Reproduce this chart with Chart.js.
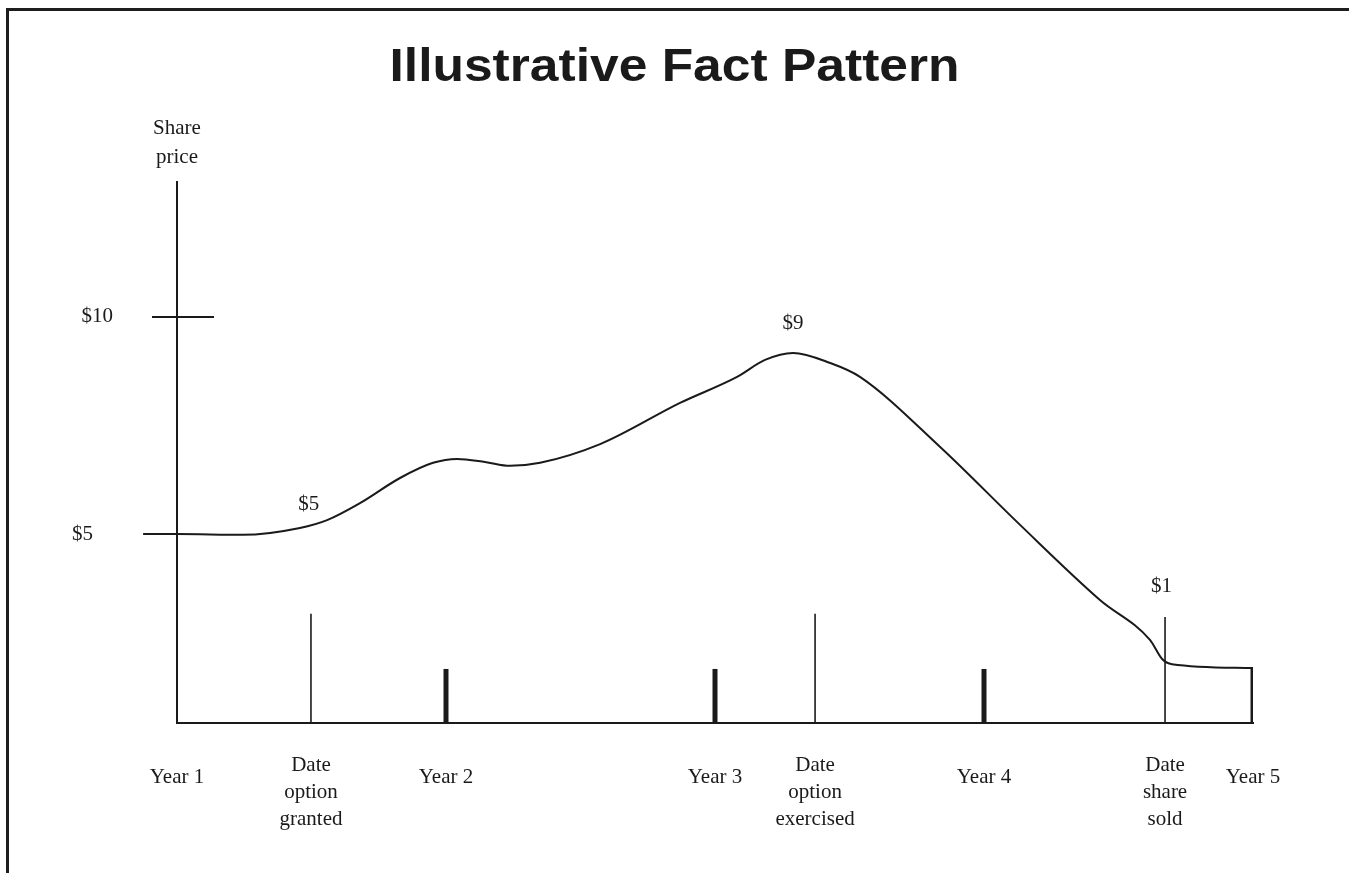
<!DOCTYPE html>
<html>
<head>
<meta charset="utf-8">
<title>Illustrative Fact Pattern</title>
<script src="https://cdn.jsdelivr.net/npm/chart.js@4.4.1/dist/chart.umd.min.js"></script>
<style>
  html, body { margin: 0; padding: 0; background: #fff; }
  .wrap { position: relative; width: 1349px; height: 873px; }
  .frame {
    position: absolute; left: 6px; top: 8px; right: -10px; bottom: -10px;
    border-left: 3px solid #1e1e1e; border-top: 3px solid #1e1e1e;
    pointer-events: none;
  }
</style>
</head>
<body>
<div class="wrap">
  <canvas id="chart"></canvas>
  <div class="frame"></div>
</div>
<script>
// share price path (x in years, y in $)
const priceX = [0.874, 1.0, 1.245, 1.457, 1.558, 1.68, 1.829, 1.952, 2.041, 2.145, 2.238, 2.35,
  2.573, 2.87, 3.082, 3.186, 3.29, 3.428, 3.539, 3.836, 4.134, 4.431, 4.617, 4.662, 4.699, 5.0];
const priceY = [5.0, 5.0, 4.98, 5.14, 5.32, 5.71, 6.29, 6.64, 6.73, 6.66, 6.57, 6.64,
  7.07, 8.02, 8.62, 9.01, 9.17, 8.94, 8.62, 7.01, 5.21, 3.48, 2.56, 2.12, 2.0, 1.91];

// year ticks
const years = [1, 2, 3, 4, 5];
const yearLabels = ["Year 1", "Year 2", "Year 3", "Year 4", "Year 5"];
const yearMarkTop = 1.89;

// event markers
const eventX = [1.498, 3.372, 4.673];
const eventTop = [3.16, 3.16, 3.09];
const eventLabels = [["Date", "option", "granted"], ["Date", "option", "exercised"], ["Date", "share", "sold"]];

// callouts on the curve
const calloutX = [1.49, 3.29, 4.66];
const calloutY = [5.67, 9.86, 3.8];
const calloutText = ["$5", "$9", "$1"];

// y axis ticks
const yTicks = [5, 10];
const yTickLabels = ["$5", "$10"];

const ink = "#1a1a1a";
const serif = "'Liberation Serif', 'DejaVu Serif', serif";

const datasets = [{
  data: priceX.map((x, i) => ({ x: x, y: priceY[i] })),
  borderColor: ink,
  borderWidth: 2,
  pointRadius: 0,
  cubicInterpolationMode: "monotone",
  clip: false
}];

// year marks (thick)
years.slice(1).forEach(x => {
  datasets.push({
    data: [{ x: x, y: 0 }, { x: x, y: yearMarkTop }],
    borderColor: ink, borderWidth: 5, pointRadius: 0
  });
});
// event lines (thin)
eventX.forEach((x, i) => {
  datasets.push({
    data: [{ x: x, y: 0 }, { x: x, y: eventTop[i] }],
    borderColor: ink, borderWidth: 1.6, pointRadius: 0
  });
});

const annotations = {
  id: "annotations",
  afterDraw(chart) {
    const ctx = chart.ctx;
    const xs = chart.scales.x, ys = chart.scales.y;
    const area = chart.chartArea;
    ctx.save();
    ctx.fillStyle = ink;
    ctx.strokeStyle = ink;

    // title, widened slightly to the original's span
    ctx.font = "bold 46px 'Liberation Sans', Arial, sans-serif";
    ctx.textAlign = "center";
    ctx.textBaseline = "middle";
    const title = "Illustrative Fact Pattern";
    const sx = Math.max(1, 570 / ctx.measureText(title).width);
    ctx.save();
    ctx.translate(chart.width / 2, 68);
    ctx.scale(sx, 1);
    ctx.fillText(title, 0, 0);
    ctx.restore();

    ctx.font = "21px " + serif;

    // y axis title
    ctx.fillText("Share", area.left, 128);
    ctx.fillText("price", area.left, 157);

    // y ticks
    ctx.lineWidth = 2;
    yTicks.forEach((v, i) => {
      const py = ys.getPixelForValue(v);
      if (v === 10) {
        ctx.beginPath();
        ctx.moveTo(area.left - 25, py);
        ctx.lineTo(area.left + 37, py);
        ctx.stroke();
      }
      ctx.textAlign = "right";
      ctx.fillText(yTickLabels[i], area.left - (v === 5 ? 84 : 64), py);
    });

    // callouts
    ctx.textAlign = "center";
    calloutText.forEach((t, i) => {
      ctx.fillText(t, xs.getPixelForValue(calloutX[i]), ys.getPixelForValue(calloutY[i]));
    });

    // x labels
    const baseY = area.bottom + 54;
    years.forEach((v, i) => {
      ctx.fillText(yearLabels[i], xs.getPixelForValue(v), baseY);
    });
    eventX.forEach((v, i) => {
      eventLabels[i].forEach((line, j) => {
        ctx.fillText(line, xs.getPixelForValue(v), area.bottom + 42 + j * 27);
      });
    });
    ctx.restore();
  }
};

new Chart(document.getElementById("chart"), {
  type: "line",
  data: { datasets: datasets },
  options: {
    responsive: true,
    maintainAspectRatio: false,
    animation: false,
    devicePixelRatio: 1,
    layout: { padding: { left: 169, right: 96, top: 182, bottom: 142 } },
    plugins: { legend: { display: false }, tooltip: { enabled: false } },
    events: [],
    scales: {
      x: {
        type: "linear", min: 1, max: 5,
        grid: { display: false },
        ticks: { display: false },
        border: { display: true, color: ink, width: 2 }
      },
      y: {
        type: "linear", min: 0.645, max: 13.11,
        grid: { display: false },
        ticks: { display: false },
        border: { display: true, color: ink, width: 2 }
      }
    }
  },
  plugins: [annotations]
});
</script>
</body>
</html>
